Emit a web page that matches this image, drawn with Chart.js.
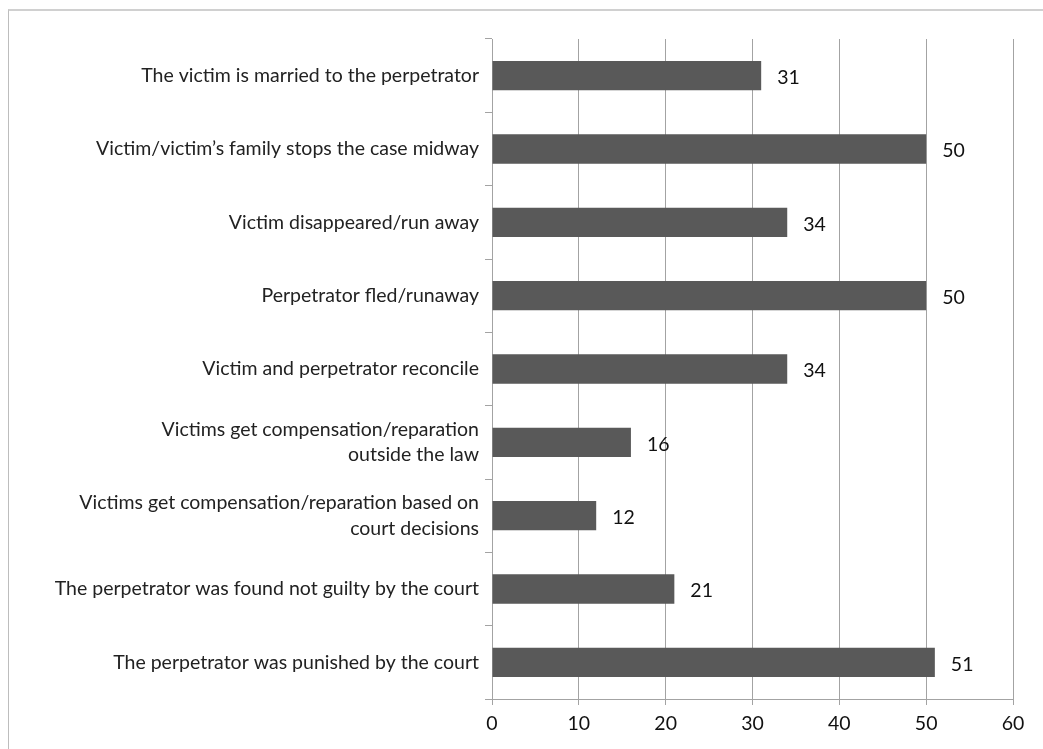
<!DOCTYPE html>
<html>
<head>
<meta charset="utf-8">
<script src="https://cdn.jsdelivr.net/npm/chart.js@4/dist/chart.umd.min.js"></script>
<style>
  html, body { margin: 0; padding: 0; background: #fff; overflow: hidden; }
  #wrap { position: relative; width: 1043px; height: 749px; }
  #frame { position: absolute; left: 8px; top: 9px; width: 1100px; height: 800px;
           border-left: 1px solid #bdbdbd; border-top: 2px solid #d0d0d0; pointer-events: none; }
</style>
</head>
<body>
<div id="wrap">
  <canvas id="reasons" width="1043" height="749"></canvas>
  <div id="frame"></div>
</div>
<script>
// reasons, top to bottom
var categories = [
  'The victim is married to the perpetrator',
  'Victim/victim\u2019s family stops the case midway',
  'Victim disappeared/run away',
  'Perpetrator fled/runaway',
  'Victim and perpetrator reconcile',
  ['Victims get compensation/reparation', 'outside the law'],
  ['Victims get compensation/reparation based on', 'court decisions'],
  'The perpetrator was found not guilty by the court',
  'The perpetrator was punished by the court'
];
var counts = [31, 50, 34, 50, 34, 16, 12, 21, 51];
var xTicks = [0, 10, 20, 30, 40, 50, 60];

var FONT = 'Lato, "Open Sans", sans-serif';
var SIZE = 19.5;

// value printed just right of each bar
var barValues = {
  id: 'barValues',
  afterDatasetsDraw: function(chart) {
    var ctx = chart.ctx;
    var meta = chart.getDatasetMeta(0);
    ctx.save();
    ctx.font = SIZE + 'px ' + FONT;
    ctx.fillStyle = '#111';
    ctx.textAlign = 'left';
    ctx.textBaseline = 'middle';
    meta.data.forEach(function(bar, i) {
      ctx.fillText(String(counts[i]), bar.x + 16, bar.y + 2);
    });
    ctx.restore();
  }
};

Chart.defaults.font.family = FONT;
Chart.defaults.font.size = SIZE;
Chart.defaults.color = '#222';

new Chart(document.getElementById('reasons'), {
  type: 'bar',
  data: {
    labels: categories,
    datasets: [{
      data: counts,
      backgroundColor: '#595959',
      borderWidth: 0,
      barPercentage: 0.4,
      categoryPercentage: 1.0
    }]
  },
  options: {
    indexAxis: 'y',
    responsive: false,
    animation: false,
    events: [],
    layout: { padding: { top: 39, right: 30, left: 0, bottom: 0 } },
    plugins: {
      legend: { display: false },
      tooltip: { enabled: false }
    },
    scales: {
      x: {
        min: 0,
        max: 60,
        afterBuildTicks: function(scale) {
          scale.ticks = xTicks.map(function(v) { return { value: v }; });
        },
        afterFit: function(scale) { scale.height = 50; },
        grid: { color: '#a3a3a3', lineWidth: 1, tickLength: 6 },
        border: { color: '#a3a3a3' },
        ticks: { padding: 7, color: '#111', font: { size: SIZE } }
      },
      y: {
        offset: true,
        afterFit: function(scale) { scale.width = 492; },
        grid: { offset: true, drawOnChartArea: false, color: '#a3a3a3', tickLength: 7 },
        border: { color: '#a3a3a3' },
        ticks: { padding: 6, color: '#222', font: { size: SIZE, lineHeight: 1.3 }, autoSkip: false }
      }
    }
  },
  plugins: [barValues]
});
</script>
</body>
</html>
